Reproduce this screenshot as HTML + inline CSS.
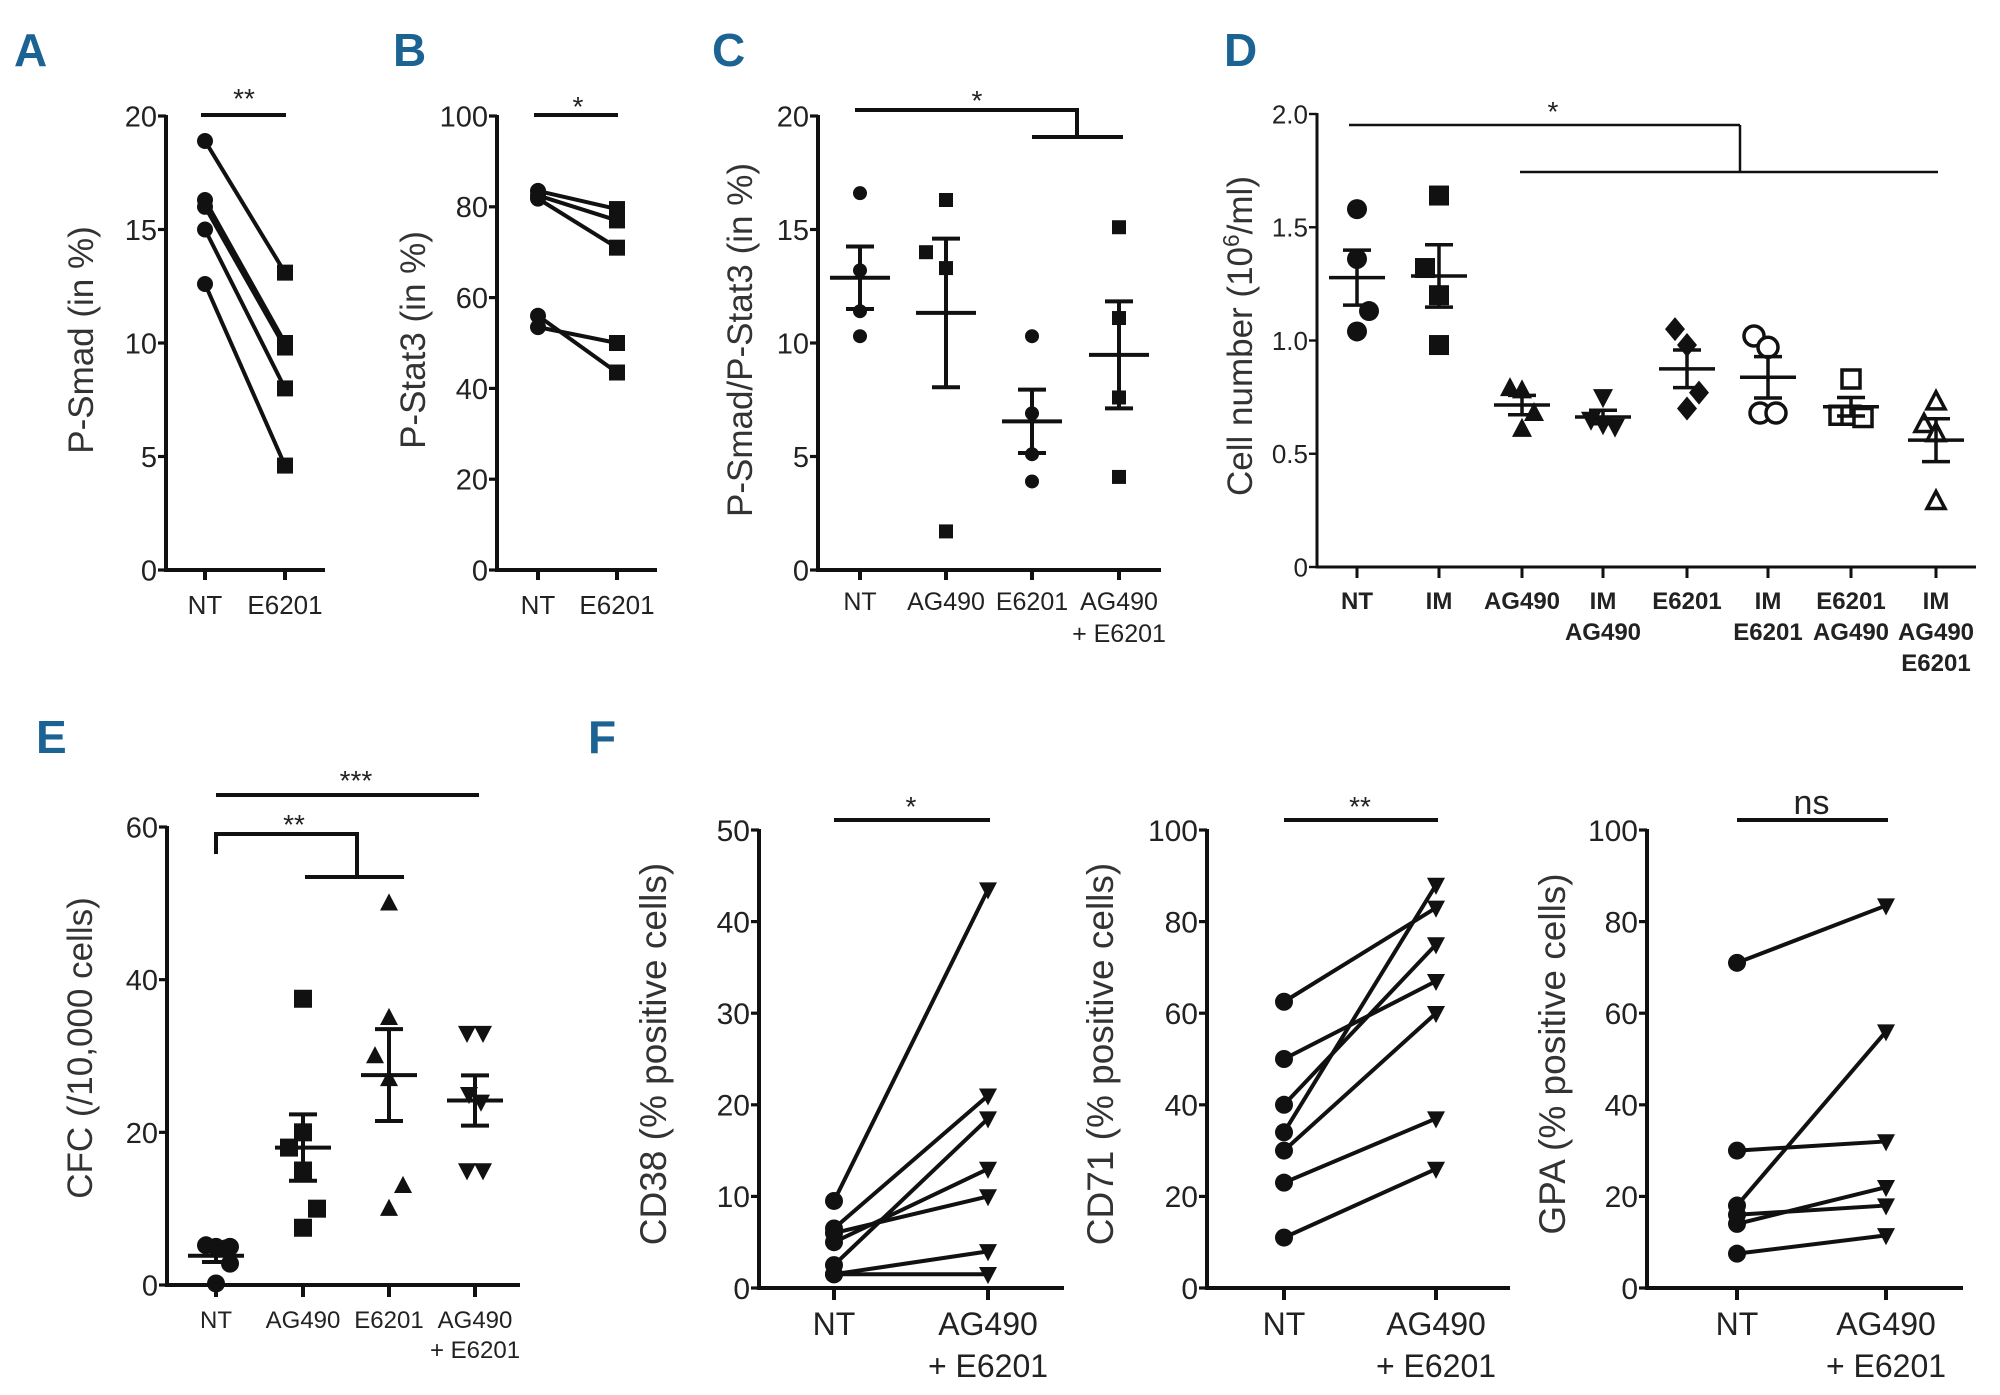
<!DOCTYPE html>
<html><head><meta charset="utf-8">
<style>
html,body{margin:0;padding:0;background:#fff;}
svg{display:block;}
.tk{font-family:"Liberation Sans Narrow","Liberation Sans",sans-serif;fill:#222;}
.tt{font-family:"Liberation Sans",sans-serif;fill:#333;}
.pl{font-family:"Liberation Sans Narrow","Liberation Sans",sans-serif;font-weight:bold;fill:#1a6392;}
</style></head>
<body>
<svg id="fig" width="2000" height="1395" viewBox="0 0 2000 1395" xmlns="http://www.w3.org/2000/svg">
<text class="pl" x="14" y="66" font-size="46">A</text>
<text class="pl" x="393" y="66" font-size="46">B</text>
<text class="pl" x="712" y="66" font-size="46">C</text>
<text class="pl" x="1224" y="66" font-size="46">D</text>
<text class="pl" x="36" y="753" font-size="46">E</text>
<text class="pl" x="588" y="753" font-size="46">F</text>
</svg>
<script>
// ---------- DATA ----------
// Panel A
const aCats = ["NT","E6201"];
const aTicks = [0,5,10,15,20];
const aBefore = [18.9,16.3,16.0,15.0,12.6];
const aAfter = [13.1,10.0,9.8,8.0,4.6];
// Panel B
const bCats = ["NT","E6201"];
const bTicks = [0,20,40,60,80,100];
const bBefore = [83.5,82.5,81.8,56.0,53.5];
const bAfter = [79.5,77.0,71.0,43.5,50.0];
// Panel C
const cCats = [["NT"],["AG490"],["E6201"],["AG490","+ E6201"]];
const cTicks = [0,5,10,15,20];
const cNT = [16.6,13.2,11.4,10.3];
const cAG = [16.3,14.0,13.3,1.7];
const cE = [10.3,6.9,5.1,3.9];
const cAGE = [15.1,11.1,7.6,4.1];
// Panel D
const dCats = [["NT"],["IM"],["AG490"],["IM","AG490"],["E6201"],["IM","E6201"],["E6201","AG490"],["IM","AG490","E6201"]];
const dTickVals = [0,0.5,1.0,1.5,2.0];
const dTickLabels = ["0","0.5","1.0","1.5","2.0"];
const dNT = [1.58,1.36,1.13,1.04];
const dIM = [1.64,1.32,1.20,0.98];
const dAG = [0.79,0.78,0.68,0.61];
const dIMAG = [0.75,0.65,0.63,0.62];
const dE = [1.05,0.98,0.77,0.70];
const dIME = [1.02,0.97,0.68,0.68];
const dEAG = [0.83,0.67,0.67,0.66];
const dIMAGE = [0.73,0.63,0.59,0.29];
// Panel E
const eCats = [["NT"],["AG490"],["E6201"],["AG490","+ E6201"]];
const eTicks = [0,20,40,60];
const eNT = [5.2,5.0,4.8,5.0,2.8,0.2];
const eAG = [37.5,20.0,18.0,15.0,10.0,7.5];
const eE = [50.0,35.0,30.0,27.0,13.0,10.0];
const eAGE = [33.0,33.0,25.0,24.0,15.0,15.0];
// Panel F
const fCats = [["NT"],["AG490","+ E6201"]];
const f1Ticks = [0,10,20,30,40,50];
const f1Before = [9.5,6.5,2.5,5.0,6.0,1.5,1.5];
const f1After = [43.5,21.0,18.5,13.0,10.0,4.0,1.5];
const f2Ticks = [0,20,40,60,80,100];
const f2Before = [62.5,50.0,40.0,34.0,30.0,23.0,11.0];
const f2After = [83.0,67.0,75.0,88.0,60.0,37.0,26.0];
const f3Ticks = [0,20,40,60,80,100];
const f3Before = [71.0,30.0,18.0,16.0,14.0,7.5];
const f3After = [83.5,32.0,56.0,18.0,22.0,11.5];

// ---------- HELPERS ----------
const NS = "http://www.w3.org/2000/svg";
const svg = document.getElementById("fig");
function el(tag, attrs, name, parent) {
  const e = document.createElementNS(NS, tag);
  for (const k in attrs) e.setAttribute(k, attrs[k]);
  
  
  (parent || svg).appendChild(e);
  return e;
}
function txt(s, x, y, size, cls, name, anchor, extra) {
  const a = Object.assign({x:x, y:y, "font-size":size, "class":cls, "text-anchor":anchor||"middle"}, extra||{});
  const t = el("text", a, name);
  t.textContent = s;
  return t;
}
function makeAxis(p) {
  const y = v => p.yBot - (v - p.min) / (p.max - p.min) * (p.yBot - p.yTop);
  const g = el("g", {}, p.name + "-axes");
  el("line", {x1:p.x0, y1:p.yTop - 1, x2:p.x0, y2:p.yBot + p.lw/2, stroke:"#111", "stroke-width":p.lw}, p.name + "-y-axis", g);
  el("line", {x1:p.x0 - p.lw/2, y1:p.yBot, x2:p.xEnd, y2:p.yBot, stroke:"#111", "stroke-width":p.lw}, p.name + "-x-axis", g);
  p.tickVals.forEach((v, i) => {
    el("line", {x1:p.x0 - 8, y1:y(v), x2:p.x0, y2:y(v), stroke:"#111", "stroke-width":p.lw*0.8}, p.name + "-y-tick", g);
    txt(p.tickLabels[i], p.x0 - 9, y(v) + p.tickFont*0.36, p.tickFont, "tk", p.name + "-y-tick-label", "end");
  });
  return y;
}
function xTicks(name, xs, yBot, lw, len) {
  xs.forEach(x => el("line", {x1:x, y1:yBot, x2:x, y2:yBot + len, stroke:"#111", "stroke-width":lw}, name + "-x-tick"));
}
function xLabels(name, cats, xs, y0, size, lh, bold) {
  cats.forEach((c, i) => {
    const lines = Array.isArray(c) ? c : [c];
    lines.forEach((s, j) => txt(s, xs[i], y0 + j*lh, size, "tk", name + "-x-label", "middle", bold ? {"font-weight":"bold"} : {}));
  });
}
function yTitle(s, x, y, size, name, extraTspan) {
  const t = el("text", {x:0, y:0, "font-size":size, "class":"tt", "text-anchor":"middle", transform:`translate(${x},${y}) rotate(-90)`}, name);
  if (extraTspan) {
    t.appendChild(document.createTextNode(extraTspan[0]));
    const sp = document.createElementNS(NS, "tspan");
    sp.setAttribute("baseline-shift", "super");
    sp.setAttribute("font-size", size*0.65);
    sp.textContent = extraTspan[1];
    
    
    t.appendChild(sp);
    t.appendChild(document.createTextNode(extraTspan[2]));
  } else t.textContent = s;
}
function marker(type, x, y, r, name) {
  const fill = type.startsWith("open") ? "#fff" : "#111";
  const sw = type.startsWith("open") ? 3.5 : 0;
  const base = type.replace("open-", "");
  if (base === "circle") return el("circle", {cx:x, cy:y, r:r, fill:fill, stroke:"#111", "stroke-width":sw}, name);
  if (base === "square") return el("rect", {x:x - r, y:y - r, width:2*r, height:2*r, fill:fill, stroke:"#111", "stroke-width":sw}, name);
  if (base === "tri") return el("polygon", {points:`${x},${y - r*1.1} ${x - r},${y + r*0.8} ${x + r},${y + r*0.8}`, fill:fill, stroke:"#111", "stroke-width":sw}, name);
  if (base === "dtri") return el("polygon", {points:`${x},${y + r*1.1} ${x - r},${y - r*0.8} ${x + r},${y - r*0.8}`, fill:fill, stroke:"#111", "stroke-width":sw}, name);
  if (base === "diamond") return el("polygon", {points:`${x},${y - r*1.2} ${x + r},${y} ${x},${y + r*1.2} ${x - r},${y}`, fill:fill}, name);
}
function line(x1, y1, x2, y2, w, name) {
  return el("line", {x1:x1, y1:y1, x2:x2, y2:y2, stroke:"#111", "stroke-width":w}, name);
}
function paired(name, y, xA, xB, before, after, mA, mB, r, lw) {
  before.forEach((v, i) => line(xA, y(v), xB, y(after[i]), lw, name + "-pair-line"));
  before.forEach(v => marker(mA, xA, y(v), r, name + "-point-before"));
  after.forEach(v => marker(mB, xB, y(v), r, name + "-point-after"));
}
function meanSem(arr) {
  const m = arr.reduce((a, b) => a + b, 0) / arr.length;
  const sd = Math.sqrt(arr.reduce((a, b) => a + (b - m) * (b - m), 0) / (arr.length - 1));
  return [m, sd / Math.sqrt(arr.length)];
}
function scatterGroup(name, y, x, vals, mtype, r, jit, halfMean, halfCap, lw) {
  vals.forEach((v, i) => marker(mtype, x + jit[i % jit.length], y(v), r, name + "-point"));
  const [m, s] = meanSem(vals);
  line(x, y(m + s), x, y(m - s), lw, name + "-sem-bar");
  line(x - halfCap, y(m + s), x + halfCap, y(m + s), lw, name + "-sem-cap-upper");
  line(x - halfCap, y(m - s), x + halfCap, y(m - s), lw, name + "-sem-cap-lower");
  line(x - halfMean, y(m), x + halfMean, y(m), lw, name + "-mean-line");
}

// ---------- PANEL A ----------
(function(){
  const y = makeAxis({name:"panel-a", x0:166, yTop:116, yBot:570, xEnd:325, min:0, max:20, tickVals:aTicks, tickLabels:aTicks.map(String), lw:4, tickFont:29});
  const xs = [205, 285];
  xTicks("panel-a", xs, 570, 4, 10);
  xLabels("panel-a", aCats, xs, 614, 26, 40);
  yTitle("P-Smad (in %)", 93, 340, 35, "panel-a-y-title");
  paired("panel-a", y, xs[0], xs[1], aBefore, aAfter, "circle", "square", 8, 4);
  line(201, 115, 286, 115, 4, "panel-a-sig-bar");
  txt("**", 244, 108, 28, "tk", "panel-a-sig-label");
})();
// ---------- PANEL B ----------
(function(){
  const y = makeAxis({name:"panel-b", x0:497, yTop:116, yBot:570, xEnd:657, min:0, max:100, tickVals:bTicks, tickLabels:bTicks.map(String), lw:4, tickFont:29});
  const xs = [538, 617];
  xTicks("panel-b", xs, 570, 4, 10);
  xLabels("panel-b", bCats, xs, 614, 26, 40);
  yTitle("P-Stat3 (in %)", 425, 340, 35, "panel-b-y-title");
  paired("panel-b", y, xs[0], xs[1], bBefore, bAfter, "circle", "square", 8, 4);
  line(534, 115, 618, 115, 4, "panel-b-sig-bar");
  txt("*", 578, 116, 28, "tk", "panel-b-sig-label");
})();
// ---------- PANEL C ----------
(function(){
  const y = makeAxis({name:"panel-c", x0:818, yTop:116, yBot:570, xEnd:1161, min:0, max:20, tickVals:cTicks, tickLabels:cTicks.map(String), lw:4, tickFont:29});
  const xs = [860, 946, 1032, 1119];
  xTicks("panel-c", xs, 570, 4, 10);
  xLabels("panel-c", cCats, xs, 610, 25, 32);
  yTitle("P-Smad/P-Stat3 (in %)", 752, 340, 35, "panel-c-y-title");
  scatterGroup("panel-c-nt", y, xs[0], cNT, "circle", 7, [0,0,0,0], 30, 14, 4);
  scatterGroup("panel-c-ag490", y, xs[1], cAG, "square", 7, [0,-20,0,0], 30, 14, 4);
  scatterGroup("panel-c-e6201", y, xs[2], cE, "circle", 7, [0,0,0,0], 30, 14, 4);
  scatterGroup("panel-c-ag490-e6201", y, xs[3], cAGE, "square", 7, [0,0,0,0], 30, 14, 4);
  line(855, 110, 1079, 110, 4, "panel-c-sig-bar");
  line(1077, 110, 1077, 137, 4, "panel-c-sig-bar");
  line(1032, 137, 1123, 137, 4, "panel-c-sig-bar");
  txt("*", 977, 110, 28, "tk", "panel-c-sig-label");
})();
// ---------- PANEL D ----------
(function(){
  const y = makeAxis({name:"panel-d", x0:1317, yTop:114, yBot:567, xEnd:1976, min:0, max:2, tickVals:dTickVals, tickLabels:dTickLabels, lw:3, tickFont:26});
  const xs = [1357, 1439, 1522, 1603, 1687, 1768, 1851, 1936];
  xTicks("panel-d", xs, 567, 3, 11);
  xLabels("panel-d", dCats, xs, 609, 24, 31, true);
  yTitle("", 1252, 336, 35, "panel-d-y-title", ["Cell number (10", "6", "/ml)"]);
  scatterGroup("panel-d-nt", y, xs[0], dNT, "circle", 10, [0,0,12,0], 28, 14, 3.5);
  scatterGroup("panel-d-im", y, xs[1], dIM, "square", 10, [0,-14,0,0], 28, 14, 3.5);
  scatterGroup("panel-d-ag490", y, xs[2], dAG, "tri", 10, [-12,0,12,0], 28, 14, 3.5);
  scatterGroup("panel-d-im-ag490", y, xs[3], dIMAG, "dtri", 10, [0,-12,0,12], 28, 14, 3.5);
  scatterGroup("panel-d-e6201", y, xs[4], dE, "diamond", 10, [-12,0,12,0], 28, 14, 3.5);
  scatterGroup("panel-d-im-e6201", y, xs[5], dIME, "open-circle", 10, [-14,0,-8,8], 28, 14, 3.5);
  scatterGroup("panel-d-e6201-ag490", y, xs[6], dEAG, "open-square", 9, [0,-12,0,12], 28, 14, 3.5);
  scatterGroup("panel-d-im-ag490-e6201", y, xs[7], dIMAGE, "open-tri", 9, [0,-12,0,0], 28, 14, 3.5);
  line(1349, 125, 1740, 125, 2.5, "panel-d-sig-bar");
  line(1740, 125, 1740, 172, 2.5, "panel-d-sig-bar");
  line(1520, 172, 1938, 172, 2.5, "panel-d-sig-bar");
  txt("*", 1553, 121, 28, "tk", "panel-d-sig-label");
})();
// ---------- PANEL E ----------
(function(){
  const y = makeAxis({name:"panel-e", x0:167, yTop:827, yBot:1285, xEnd:520, min:0, max:60, tickVals:eTicks, tickLabels:eTicks.map(String), lw:4, tickFont:29});
  const xs = [216, 303, 389, 475];
  xTicks("panel-e", xs, 1285, 4, 12);
  xLabels("panel-e", eCats, xs, 1328, 24, 30);
  yTitle("CFC (/10,000 cells)", 92, 1048, 35, "panel-e-y-title");
  scatterGroup("panel-e-nt", y, xs[0], eNT, "circle", 9, [-10,0,10,14,14,0], 28, 14, 4);
  scatterGroup("panel-e-ag490", y, xs[1], eAG, "square", 9, [0,0,-14,0,14,0], 28, 14, 4);
  scatterGroup("panel-e-e6201", y, xs[2], eE, "tri", 9, [0,0,-14,0,14,0], 28, 14, 4);
  scatterGroup("panel-e-ag490-e6201", y, xs[3], eAGE, "dtri", 9, [-8,8,-6,6,-8,8], 28, 14, 4);
  line(216, 795, 479, 795, 4, "panel-e-sig-bar-3star");
  txt("***", 356, 790, 28, "tk", "panel-e-sig-label-3star");
  line(216, 854, 216, 834, 4, "panel-e-sig-bar-2star");
  line(214, 834, 359, 834, 4, "panel-e-sig-bar-2star");
  line(357, 834, 357, 877, 4, "panel-e-sig-bar-2star");
  line(305, 877, 404, 877, 4, "panel-e-sig-bar-2star");
  txt("**", 294, 834, 28, "tk", "panel-e-sig-label-2star");
})();
// ---------- PANEL F ----------
function fPanel(name, x0, xEnd, xs, ticks, before, after, title, titleX, sig) {
  const y = makeAxis({name:name, x0:x0, yTop:830, yBot:1288, xEnd:xEnd, min:0, max:ticks[ticks.length-1], tickVals:ticks, tickLabels:ticks.map(String), lw:4, tickFont:30});
  xTicks(name, xs, 1288, 4, 12);
  xLabels(name, fCats, xs, 1335, 32, 42);
  yTitle(title, titleX, 1054, 37, name + "-y-title");
  paired(name, y, xs[0], xs[1], before, after, "circle", "dtri", 9, 4);
  line(xs[0], 820, xs[1] + 2, 820, 4, name + "-sig-bar");
  txt(sig, (xs[0] + xs[1]) / 2, sig === "ns" ? 814 : 816, sig === "ns" ? 34 : 28, "tk", name + "-sig-label");
}
fPanel("panel-f-cd38", 759, 1064, [834, 988], f1Ticks, f1Before, f1After, "CD38 (% positive cells)", 666, "*");
fPanel("panel-f-cd71", 1207, 1510, [1284, 1436], f2Ticks, f2Before, f2After, "CD71 (% positive cells)", 1113, "**");
fPanel("panel-f-gpa", 1647, 1963, [1737, 1886], f3Ticks, f3Before, f3After, "GPA (% positive cells)", 1565, "ns");
</script>
</body></html>
